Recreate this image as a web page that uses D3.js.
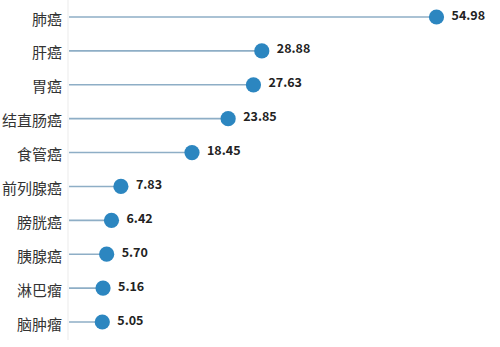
<!DOCTYPE html>
<html>
<head>
<meta charset="utf-8">
<script src="https://cdn.jsdelivr.net/npm/d3@7"></script>
<style>
html,body{margin:0;padding:0;background:#fff;}
svg{display:block;}
</style>
</head>
<body>
<svg id="chart" width="500" height="347"></svg>
<script>
const categories = ["肺癌","肝癌","胃癌","结直肠癌","食管癌","前列腺癌","膀胱癌","胰腺癌","淋巴瘤","脑肿瘤"];
const values = [54.98,28.88,27.63,23.85,18.45,7.83,6.42,5.70,5.16,5.05];

const svg = d3.select("#chart");
const x = d3.scaleLinear().domain([0, 54.98]).range([68.5, 436.5]);
const y = d3.scalePoint().domain(categories).range([17, 322]);

svg.append("line")
  .attr("x1", 68).attr("x2", 68).attr("y1", 0).attr("y2", 340)
  .attr("stroke", "#ebebeb").attr("stroke-width", 1);

const rows = svg.selectAll("g.row").data(categories.map((c,i)=>({c, v: values[i]})))
  .enter().append("g").attr("class","row");

rows.append("line")
  .attr("x1", 69).attr("x2", d => x(d.v))
  .attr("y1", d => y(d.c)).attr("y2", d => y(d.c))
  .attr("stroke", "#8eaec6").attr("stroke-width", 1.6);

rows.append("circle")
  .attr("cx", d => x(d.v)).attr("cy", d => y(d.c)).attr("r", 7.6)
  .attr("fill", "#2c86c0");

rows.append("text")
  .attr("x", d => x(d.v) + 15).attr("y", d => y(d.c) - 3)
  .attr("dominant-baseline", "central")
  .attr("font-family", "'Noto Sans CJK SC', 'Noto Sans', sans-serif")
  .attr("font-weight", "bold").attr("font-size", 12.5)
  .attr("fill", "#222")
  .text(d => d.v.toFixed(2));

rows.append("text")
  .attr("x", 62).attr("y", d => y(d.c) + 1)
  .attr("text-anchor", "end").attr("dominant-baseline", "central")
  .attr("font-family", "'Noto Sans CJK SC', sans-serif")
  .attr("font-size", 15)
  .attr("fill", "#333")
  .text(d => d.c);
</script>
</body>
</html>
